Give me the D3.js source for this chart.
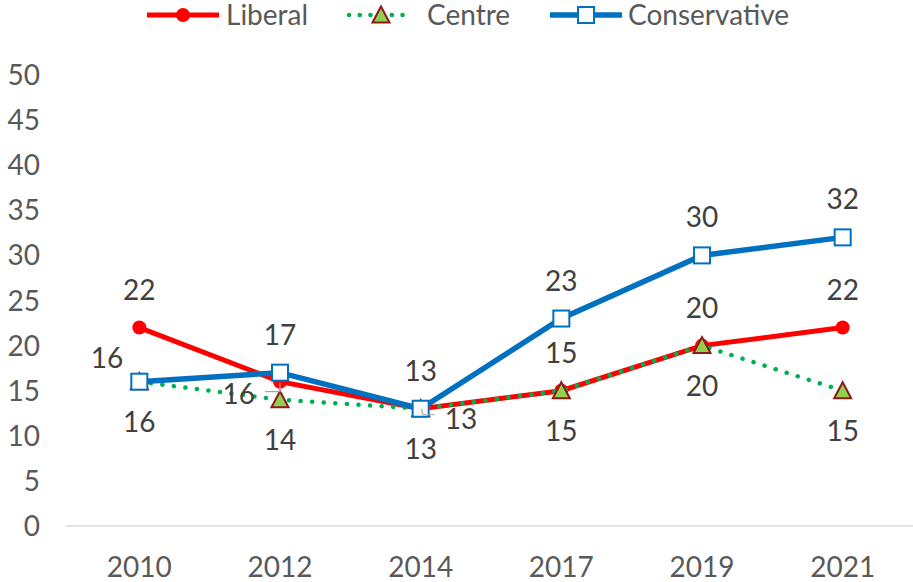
<!DOCTYPE html>
<html>
<head>
<meta charset="utf-8">
<script src="https://cdn.jsdelivr.net/npm/d3@7"></script>
<style>
  body { margin: 0; background: #fff; }
  svg { font-family: Lato, "Open Sans", sans-serif; }
</style>
</head>
<body>
<div id="chart"></div>
<script>
//Datos
const years = ['2010', '2012', '2014', '2017', '2019', '2021'];
const liberal = [22, 16, 13, 15, 20, 22];
const centre = [16, 14, 13, 15, 20, 15];
const conservative = [16, 17, 13, 23, 30, 32];
const yTicks = [0, 5, 10, 15, 20, 25, 30, 35, 40, 45, 50];

//Colores
const COLOR_LIB = '#FF0000',
    COLOR_CEN = '#00B050',
    COLOR_CEN_FILL = '#92D050',
    COLOR_CEN_EDGE = '#8B1A1A',
    COLOR_CON = '#0070C0',
    COLOR_TEXT = '#404040',
    COLOR_AXIS = '#595959';

const FONT_SIZE = 28;

let width = 913, height = 582;
let margin = {top: 75, right: 0, bottom: 56, left: 69};

let svg = d3.select('#chart').append('svg')
    .attr('width', width)
    .attr('height', height);

let x = d3.scaleBand()
    .domain(years)
    .range([margin.left, width - margin.right]);

let y = d3.scaleLinear()
    .domain([0, 50])
    .range([height - margin.bottom, margin.top]);

let cx = function(d, i) { return x(years[i]) + x.bandwidth() / 2; };

//Eje Y
svg.append('g')
    .selectAll('text')
    .data(yTicks)
    .enter()
    .append('text')
    .attr('x', 40)
    .attr('y', function(d) { return y(d); })
    .attr('dy', '0.36em')
    .attr('text-anchor', 'end')
    .attr('font-size', FONT_SIZE)
    .attr('fill', COLOR_AXIS)
    .text(function(d) { return d; });

//Eje X
svg.append('line')
    .attr('x1', margin.left - 3)
    .attr('x2', width)
    .attr('y1', y(0))
    .attr('y2', y(0))
    .attr('stroke', '#D9D9D9')
    .attr('stroke-width', 1.5);

svg.append('g')
    .selectAll('text')
    .data(years)
    .enter()
    .append('text')
    .attr('x', function(d) { return x(d) + x.bandwidth() / 2; })
    .attr('y', 577)
    .attr('text-anchor', 'middle')
    .attr('font-size', FONT_SIZE)
    .attr('fill', COLOR_AXIS)
    .text(function(d) { return d; });

let line = d3.line()
    .x(cx)
    .y(function(d) { return y(d); });

//Series
let series = [
    {name: 'Liberal', values: liberal, color: COLOR_LIB, width: 5, dash: null, marker: 'circle',
        labels: ['above', 'left2', 'right', 'above', 'above', 'above']},
    {name: 'Centre', values: centre, color: COLOR_CEN, width: 4.5, dash: '0.1 11.5', marker: 'triangle',
        labels: ['below', 'below', 'below', 'below', 'below', 'below']},
    {name: 'Conservative', values: conservative, color: COLOR_CON, width: 5.5, dash: null, marker: 'square',
        labels: ['left', 'above', 'above', 'above', 'above', 'above']}
];

function drawMarker(g, type, px, py) {
    if (type === 'circle') {
        g.append('circle').attr('cx', px).attr('cy', py).attr('r', 7)
            .attr('fill', COLOR_LIB);
    } else if (type === 'triangle') {
        g.append('path')
            .attr('d', 'M' + px + ',' + (py - 8.5) + 'L' + (px + 8.5) + ',' + (py + 7.5) + 'L' + (px - 8.5) + ',' + (py + 7.5) + 'Z')
            .attr('fill', COLOR_CEN_FILL)
            .attr('stroke', COLOR_CEN_EDGE)
            .attr('stroke-width', 2);
    } else {
        g.append('rect').attr('x', px - 8).attr('y', py - 8)
            .attr('width', 16).attr('height', 16)
            .attr('fill', '#fff')
            .attr('stroke', COLOR_CON)
            .attr('stroke-width', 2);
    }
}

series.forEach(function(s) {
    let g = svg.append('g');
    g.append('path')
        .datum(s.values)
        .attr('d', line)
        .attr('fill', 'none')
        .attr('stroke', s.color)
        .attr('stroke-width', s.width)
        .attr('stroke-linecap', s.dash ? 'round' : 'butt')
        .attr('stroke-dasharray', s.dash);
    s.values.forEach(function(v, i) {
        drawMarker(g, s.marker, cx(v, i), y(v));
    });
});

//Etiquetas
let offsets = {
    above: {dx: 0, dy: -28, anchor: 'middle'},
    below: {dx: 0, dy: 50, anchor: 'middle'},
    left: {dx: -16, dy: -14, anchor: 'end'},
    left2: {dx: -25, dy: 22, anchor: 'end'},
    right: {dx: 24, dy: 20, anchor: 'start'}
};

let labelG = svg.append('g');
series.forEach(function(s) {
    s.values.forEach(function(v, i) {
        let o = offsets[s.labels[i]];
        let px = cx(v, i), py = y(v);
        //Líneas guía
        if (s.labels[i] === 'left2') {
            labelG.append('path')
                .attr('d', 'M' + px + ',' + (py + 1) + 'L' + px + ',' + (py + 10) + 'L' + (px - 15) + ',' + (py + 10))
                .attr('fill', 'none').attr('stroke', '#A6A6A6').attr('stroke-width', 1.2);
        } else if (s.labels[i] === 'right') {
            labelG.append('path')
                .attr('d', 'M' + (px + 1) + ',' + py + 'L' + (px + 2) + ',' + (py + 6) + 'L' + (px + 14) + ',' + (py + 6))
                .attr('fill', 'none').attr('stroke', '#A6A6A6').attr('stroke-width', 1.2);
        }
        labelG.append('text')
            .attr('x', px + o.dx)
            .attr('y', py + o.dy)
            .attr('text-anchor', o.anchor)
            .attr('font-size', FONT_SIZE)
            .attr('fill', COLOR_TEXT)
            .text(v);
    });
});

//Leyenda
let legendItems = [
    {s: series[0], x1: 147, x2: 219, tx: 226},
    {s: series[1], x1: 349, x2: 413, tx: 427},
    {s: series[2], x1: 550, x2: 622, tx: 628}
];
let legend = svg.append('g');
legendItems.forEach(function(l) {
    let ly = 15;
    legend.append('line')
        .attr('x1', l.x1).attr('x2', l.x2)
        .attr('y1', ly).attr('y2', ly)
        .attr('stroke', l.s.color)
        .attr('stroke-width', l.s.width)
        .attr('stroke-linecap', l.s.dash ? 'round' : 'butt')
        .attr('stroke-dasharray', l.s.dash ? '0.1 10.6' : null);
    drawMarker(legend, l.s.marker, (l.x1 + l.x2) / 2, ly);
    legend.append('text')
        .attr('x', l.tx)
        .attr('y', ly)
        .attr('dy', '0.36em')
        .attr('font-size', FONT_SIZE)
        .attr('fill', COLOR_AXIS)
        .text(l.s.name);
});
</script>
</body>
</html>
